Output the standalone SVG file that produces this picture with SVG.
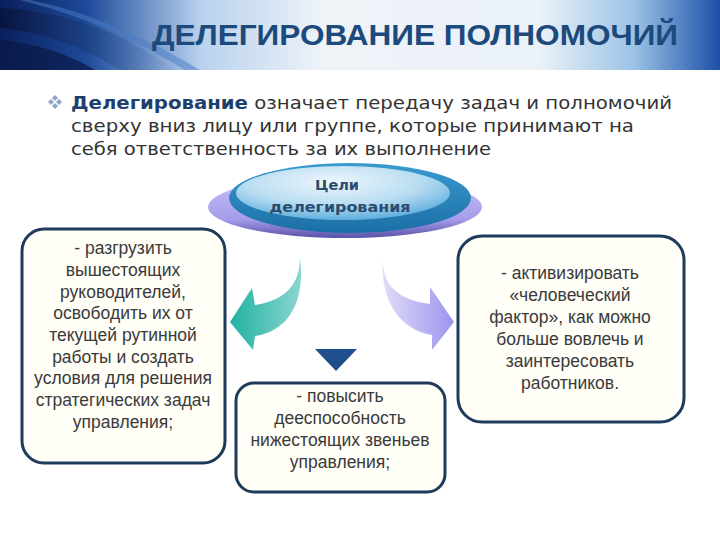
<svg xmlns="http://www.w3.org/2000/svg" width="720" height="540" viewBox="0 0 720 540">
<defs>
<linearGradient id="hdr" x1="0" y1="0" x2="1" y2="0">
<stop offset="0" stop-color="#0B1F5C"/>
<stop offset="0.12" stop-color="#1D4A9A"/>
<stop offset="0.28" stop-color="#B9D2EE"/>
<stop offset="0.45" stop-color="#EEF3F8"/>
<stop offset="0.75" stop-color="#EAF1F7"/>
<stop offset="0.88" stop-color="#9CC3E6"/>
<stop offset="1" stop-color="#1C4FA8"/>
</linearGradient>
<linearGradient id="streak" x1="0" y1="0" x2="1" y2="0">
<stop offset="0" stop-color="#08143F" stop-opacity="0.95"/>
<stop offset="1" stop-color="#2A5CA8" stop-opacity="0"/>
</linearGradient>
<linearGradient id="purple" x1="0" y1="0" x2="0" y2="1">
<stop offset="0" stop-color="#C8C2F6"/>
<stop offset="0.7" stop-color="#A59CEB"/>
<stop offset="1" stop-color="#5A52A8"/>
</linearGradient>
<linearGradient id="ring" x1="0" y1="0" x2="0" y2="1">
<stop offset="0" stop-color="#3A9AD0"/>
<stop offset="1" stop-color="#1B6FA6"/>
</linearGradient>
<radialGradient id="face" cx="0.45" cy="0.3" r="0.75">
<stop offset="0" stop-color="#EEF6FC"/>
<stop offset="0.55" stop-color="#B9DDF2"/>
<stop offset="1" stop-color="#4FA6DA"/>
</radialGradient>
<linearGradient id="teal" x1="0" y1="0" x2="1" y2="0">
<stop offset="0" stop-color="#22B2A2"/>
<stop offset="1" stop-color="#8AD6D0"/>
</linearGradient>
<linearGradient id="lav" x1="0" y1="0" x2="1" y2="0">
<stop offset="0" stop-color="#E0DDF8"/>
<stop offset="1" stop-color="#9C94EE"/>
</linearGradient>
<style>
.box{fill:#FFFEF7;stroke:#1E3B5C;stroke-width:3}
.bt{font-family:"Liberation Sans",Arial,sans-serif;font-size:17.5px;fill:#3A3A3A;text-anchor:middle}
.body{font-family:"DejaVu Sans",Verdana,sans-serif;font-size:18px;fill:#333333}
</style>
</defs>
<rect width="720" height="540" fill="#FFFFFF"/>
<g id="header">
<rect x="0" y="0" width="720" height="70" fill="url(#hdr)"/>
<path d="M0,8 C60,10 120,30 175,70 L120,70 C80,45 40,32 0,28 Z" fill="url(#streak)"/>
<path d="M0,40 C40,44 70,55 95,70 L0,70 Z" fill="#0A1845" opacity="0.7"/>
<path d="M30,0 C90,12 150,40 200,70 L185,70 C140,42 90,18 20,0 Z" fill="#4A7CC8" opacity="0.5"/>
<text x="152" y="45" font-family="'Liberation Sans',Arial,sans-serif" font-weight="bold" font-size="29" fill="#1D4A7C" textLength="526" lengthAdjust="spacingAndGlyphs">ДЕЛЕГИРОВАНИЕ ПОЛНОМОЧИЙ</text>
</g>
<g id="intro">
<g fill="#8FA6C8">
<path d="M55,95 l3,3 l-3,3 l-3,-3 Z"/>
<path d="M55,103 l3,3 l-3,3 l-3,-3 Z"/>
<path d="M51,99 l3,3 l-3,3 l-3,-3 Z"/>
<path d="M59,99 l3,3 l-3,3 l-3,-3 Z"/>
</g>
<text class="body" x="71" y="109" textLength="601" lengthAdjust="spacingAndGlyphs"><tspan font-weight="bold" fill="#1D3F6E">Делегирование</tspan> означает передачу задач и полномочий</text>
<text class="body" x="71" y="132" textLength="563" lengthAdjust="spacingAndGlyphs">сверху вниз лицу или группе, которые принимают на</text>
<text class="body" x="71" y="155" textLength="420" lengthAdjust="spacingAndGlyphs">себя ответственность за их выполнение</text>
</g>
<g id="goals">
<ellipse cx="345" cy="207" rx="137" ry="31" fill="url(#purple)"/>
<ellipse cx="350" cy="198" rx="121" ry="35" fill="url(#ring)"/>
<ellipse cx="343" cy="193" rx="107" ry="27" fill="url(#face)"/>
<text x="337" y="190" font-family="'DejaVu Sans',Verdana,sans-serif" font-weight="bold" font-size="14.5" fill="#2B4C6E" text-anchor="middle">Цели</text>
<text x="340" y="212" font-family="'DejaVu Sans',Verdana,sans-serif" font-weight="bold" font-size="14.5" fill="#2B4C6E" text-anchor="middle" textLength="141" lengthAdjust="spacingAndGlyphs">делегирования</text>
</g>
<g id="connectors">
<path d="M300,257 C300,282 288,300 255,305 L252,288 L230,322 L253,350 L255,336 C292,330 305,298 300,257 Z" fill="url(#teal)"/>
<path d="M383,261 C383,285 398,300 430,304 L430,287 L454,322 L432,350 L432,335 C400,330 380,300 383,261 Z" fill="url(#lav)"/>
<path d="M315,349 L357,349 L336,371 Z" fill="#1F4E8C"/>
</g>
<g id="box-left">
<rect class="box" x="22" y="229" width="203" height="234" rx="22"/>
<text class="bt" x="123" y="254">- разгрузить</text>
<text class="bt" x="123" y="276">вышестоящих</text>
<text class="bt" x="123" y="298">руководителей,</text>
<text class="bt" x="123" y="319">освободить их от</text>
<text class="bt" x="123" y="341">текущей рутинной</text>
<text class="bt" x="123" y="363">работы и создать</text>
<text class="bt" x="123" y="384">условия для решения</text>
<text class="bt" x="123" y="406">стратегических задач</text>
<text class="bt" x="123" y="428">управления;</text>
</g>
<g id="box-right">
<rect class="box" x="458" y="236" width="226" height="186" rx="24"/>
<text class="bt" x="570" y="279">- активизировать</text>
<text class="bt" x="570" y="301">«человеческий</text>
<text class="bt" x="570" y="323">фактор», как можно</text>
<text class="bt" x="570" y="345">больше вовлечь и</text>
<text class="bt" x="570" y="367">заинтересовать</text>
<text class="bt" x="570" y="389">работников.</text>
</g>
<g id="box-bottom">
<rect class="box" x="236" y="383" width="209" height="109" rx="18"/>
<text class="bt" x="340" y="402">- повысить</text>
<text class="bt" x="340" y="424">дееспособность</text>
<text class="bt" x="340" y="446">нижестоящих звеньев</text>
<text class="bt" x="340" y="468">управления;</text>
</g>
</svg>
